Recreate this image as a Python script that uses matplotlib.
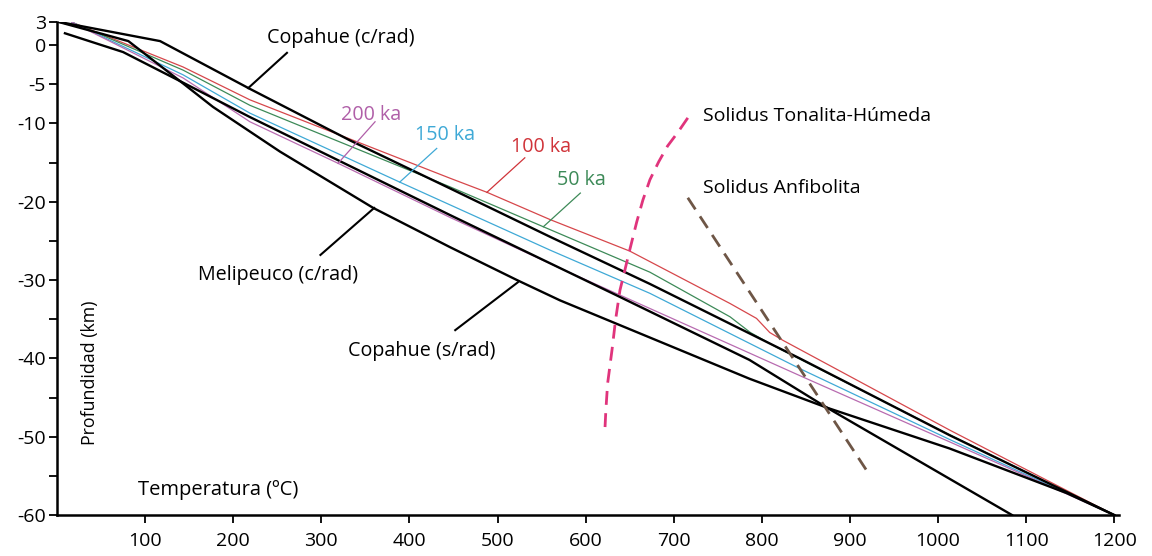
import numpy as np
import matplotlib
matplotlib.use("Agg")
import matplotlib.pyplot as plt

plt.rcParams['font.family'] = ['Open Sans', 'DejaVu Sans']

# Geotermas (temperatura en ºC, profundidad en km)
cop_crad_T = [0, 117, 219, 333, 446, 560, 673, 843, 1013, 1200]
cop_crad_z = [3, 0.5, -5.6, -12.2, -18.3, -24.5, -30.5, -40.0, -49.8, -60]

meli_T = [9, 75, 143, 219, 446, 636, 786, 874, 1084]
meli_z = [1.5, -0.9, -4.8, -9.2, -21.7, -32.0, -40.2, -46.3, -60]

cop_srad_T = [0, 81, 143, 177, 253, 359, 446, 522, 571, 786, 874, 1013, 1146, 1200]
cop_srad_z = [3, 0.5, -4.9, -7.9, -13.6, -20.8, -25.8, -30.0, -32.6, -42.6, -46.3, -51.5, -57.2, -60]

# Modelos de enfriamiento
ka100_T = [17, 143, 219, 446, 488, 560, 650, 764, 794, 809, 824, 1014, 1200]
ka100_z = [2.9, -2.8, -7.0, -17.0, -18.8, -22.3, -26.3, -33.0, -34.9, -36.7, -37.7, -49.2, -60]

ka50_T = [17, 143, 219, 446, 552, 673, 764, 787, 817, 1014, 1200]
ka50_z = [2.9, -3.2, -7.7, -18.1, -23.2, -29.0, -34.7, -36.7, -38.6, -49.8, -60]

ka150_T = [17, 143, 219, 389, 446, 560, 673, 843, 1014, 1200]
ka150_z = [2.9, -3.8, -8.7, -17.5, -20.4, -26.2, -31.7, -41.3, -50.4, -60]

ka200_T = [17, 143, 219, 319, 446, 575, 855, 1014, 1200]
ka200_z = [2.9, -4.2, -9.8, -15.1, -22.0, -28.7, -42.8, -50.7, -60]

# Curvas de solidus
ton_T = [716, 705, 693, 683, 673, 665, 658, 650, 644, 639, 634, 630, 625, 623, 622]
ton_z = [-9.3, -11.1, -12.9, -14.9, -17.2, -19.8, -22.6, -26.2, -29.0, -31.3, -35.1, -38.9, -43.2, -46.6, -48.9]

anf_T = [716, 923]
anf_z = [-19.5, -55.0]

fig = plt.figure(figsize=(11.52, 5.56), dpi=100)
ax = fig.add_axes([0.0495, 0.0737, 0.9215, 0.8876])

ax.plot(ka100_T, ka100_z, color='#d6474b', lw=0.9)
ax.plot(ka50_T, ka50_z, color='#3d8a58', lw=0.9)
ax.plot(ka150_T, ka150_z, color='#3fa9d6', lw=0.9)
ax.plot(ka200_T, ka200_z, color='#b86bb0', lw=0.9)

for T, z in [(cop_crad_T, cop_crad_z), (meli_T, meli_z), (cop_srad_T, cop_srad_z)]:
    ax.plot(T, z, color='black', lw=1.7, solid_joinstyle='round')

ax.plot(ton_T, ton_z, color='#e0347c', lw=2.0, dashes=(5, 3))
ax.plot(anf_T, anf_z, color='#6e5646', lw=2.0, dashes=(5, 3))

# etiquetas con línea indicadora
labels = [
    ("Copahue (c/rad)", (322, 0.9), (261, -1.0), (217, -5.5), 'black'),
    ("200 ka", (356, -8.9), (361, -9.8), (319, -15.1), '#b05fa8'),
    ("150 ka", (440, -11.5), (431, -13.2), (389, -17.5), '#3fa9d6'),
    ("100 ka", (549, -13.0), (531, -14.4), (488, -18.8), '#d0343a'),
    ("50 ka", (595, -17.2), (594, -18.9), (552, -23.2), '#3d8a58'),
    ("Melipeuco (c/rad)", (251, -29.4), (299, -26.8), (360, -20.8), 'black'),
    ("Copahue (s/rad)", (414, -39.0), (452, -36.4), (523, -30.3), 'black'),
]
for txt, tpos, p0, p1, c in labels:
    lw = 1.5 if c == 'black' else 0.9
    ax.plot([p0[0], p1[0]], [p0[1], p1[1]], color=c, lw=lw)
    ax.text(tpos[0], tpos[1], txt, color=c, fontsize=14.2, ha='center', va='center')

ax.text(733, -9.0, "Solidus Tonalita-Húmeda", fontsize=14, ha='left', va='center')
ax.text(733, -18.3, "Solidus Anfibolita", fontsize=14, ha='left', va='center')
ax.text(92, -56.8, "Temperatura (ºC)", fontsize=14.5, ha='left', va='center')
ax.text(37, -41.8, "Profundidad (km)", fontsize=12.8, ha='center', va='center', rotation=90)

ax.set_xlim(0, 1205)
ax.set_ylim(-60, 3)
ax.set_xticks(np.arange(100, 1201, 100))
ax.set_yticks([3, 0, -5, -10, -15, -20, -25, -30, -35, -40, -45, -50, -55, -60])
ax.set_yticklabels(['3', '0', '-5', '-10', '', '-20', '', '-30', '', '-40', '', '-50', '', '-60'])
ax.tick_params(axis='both', direction='out', length=6, width=1.3, labelsize=14)
ax.tick_params(axis='x', pad=6)
ax.tick_params(axis='y', pad=2)

for s in ['top', 'right']:
    ax.spines[s].set_visible(False)
for s in ['left', 'bottom']:
    ax.spines[s].set_linewidth(1.8)

fig.savefig('out.png', dpi=100)
